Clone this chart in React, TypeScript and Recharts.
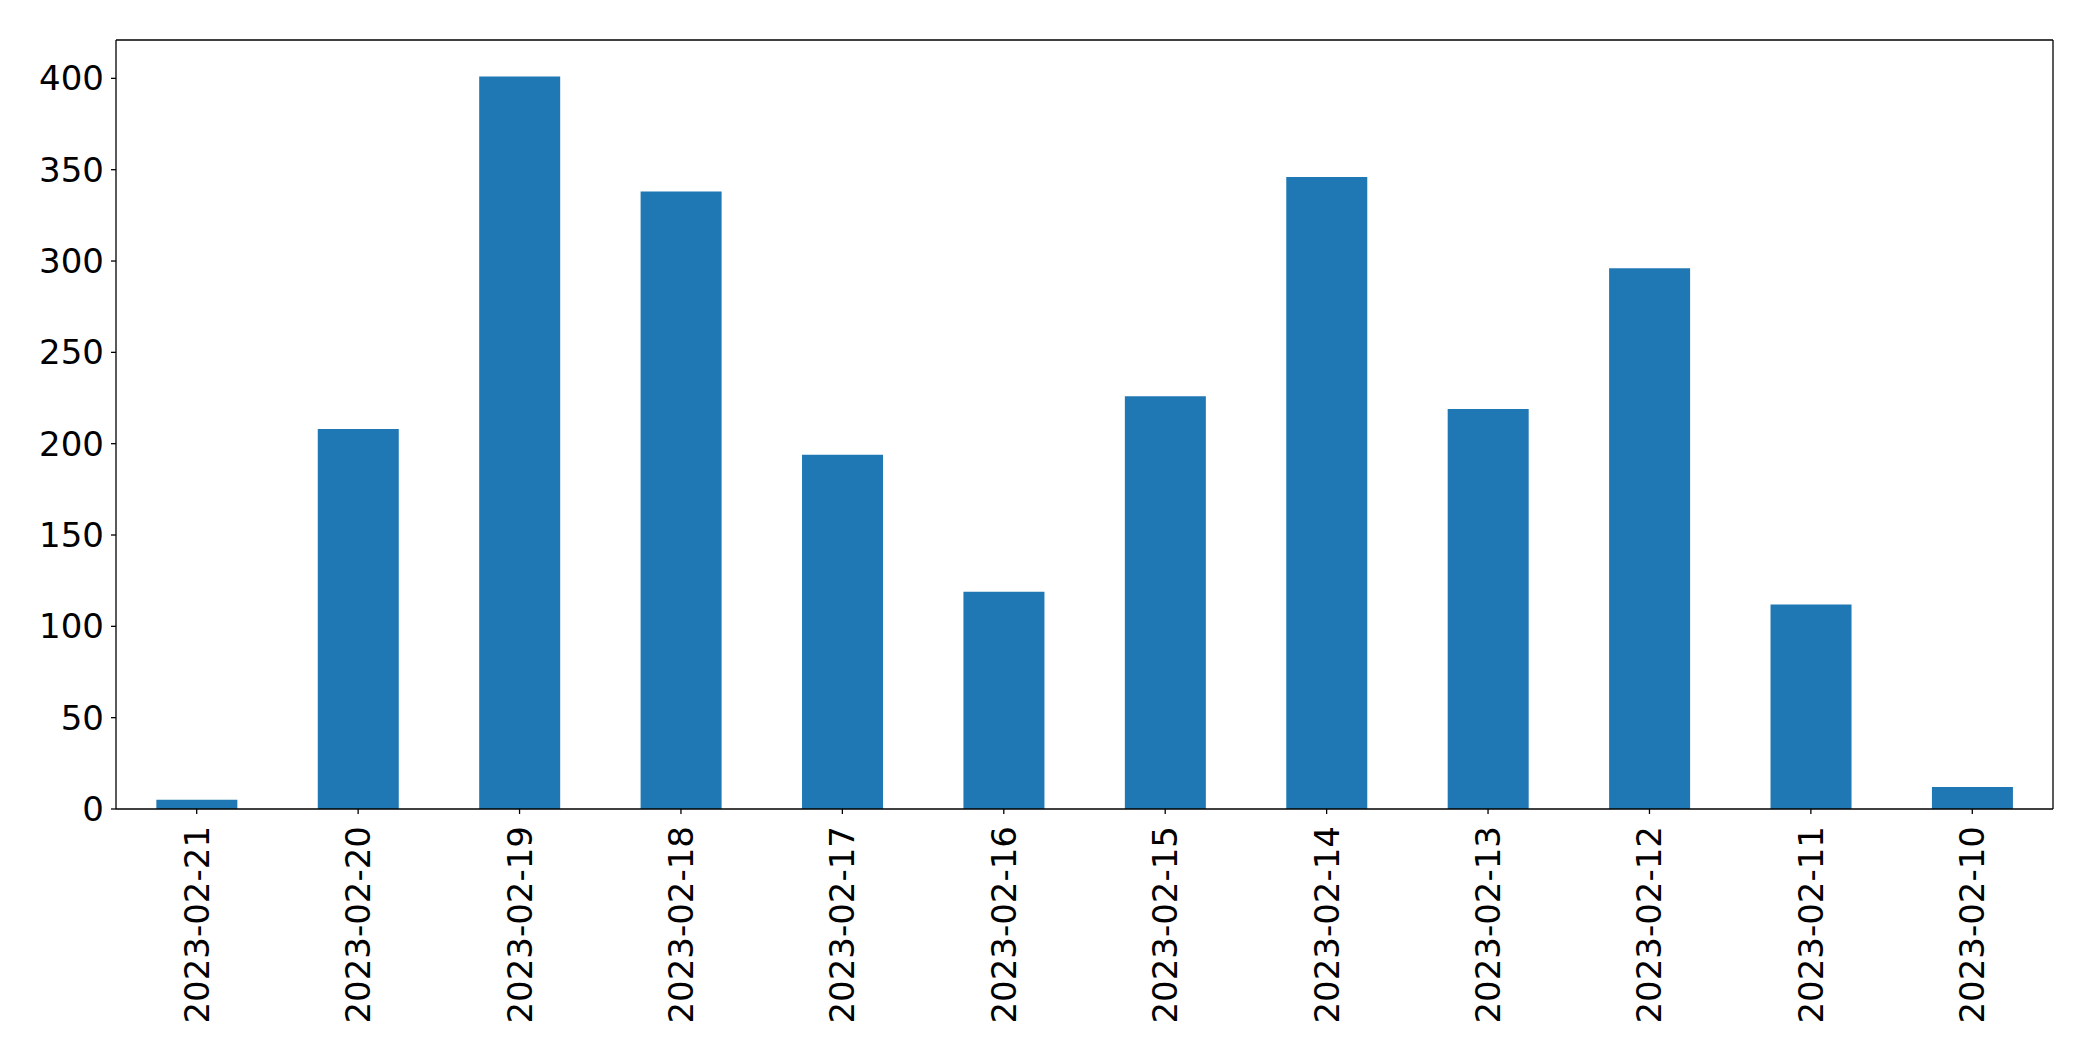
import { BarChart, Bar, XAxis, YAxis, CartesianGrid } from "recharts";

// dates as they appear on the x axis (left to right)
const dates = [
  "2023-02-21",
  "2023-02-20",
  "2023-02-19",
  "2023-02-18",
  "2023-02-17",
  "2023-02-16",
  "2023-02-15",
  "2023-02-14",
  "2023-02-13",
  "2023-02-12",
  "2023-02-11",
  "2023-02-10",
];
const counts = [5, 208, 401, 338, 194, 119, 226, 346, 219, 296, 112, 12];
const yTicks = [0, 50, 100, 150, 200, 250, 300, 350, 400];

const data = dates.map((date, i) => ({ date, count: counts[i] }));

const FONT = "DejaVu Sans";

function DateTick({ x, y, payload }: { x?: number; y?: number; payload?: { value: string } }) {
  return (
    <text
      x={x}
      y={y}
      transform={`rotate(-90, ${x}, ${y})`}
      textAnchor="end"
      dominantBaseline="central"
      fontFamily={FONT}
      fontSize={34}
      fill="#000"
    >
      {payload?.value}
    </text>
  );
}

type GridArgs = { offset: { left: number; top: number; width: number; height: number } };

export default function App() {
  return (
    <div style={{ position: "absolute", left: 0, top: 0, background: "#fff" }}>
      <BarChart
        width={2093}
        height={1061}
        data={data}
        margin={{ top: 40, right: 40, left: 0, bottom: 0 }}
        barCategoryGap="25%"
      >
        {/* top and right spines of the frame */}
        <CartesianGrid
          stroke="#000"
          strokeWidth={1.3}
          horizontalCoordinatesGenerator={({ offset }: GridArgs) => [offset.top]}
          verticalCoordinatesGenerator={({ offset }: GridArgs) => [offset.left + offset.width]}
        />
        <XAxis
          dataKey="date"
          type="category"
          height={252}
          interval={0}
          stroke="#000"
          strokeWidth={1.3}
          tickSize={5}
          tickMargin={12}
          tick={<DateTick />}
        />
        <YAxis
          type="number"
          domain={[0, 421]}
          ticks={yTicks}
          width={116}
          stroke="#000"
          strokeWidth={1.3}
          tickSize={5}
          tickMargin={7}
          tick={{ fill: "#000", fontFamily: FONT, fontSize: 34 }}
        />
        <Bar dataKey="count" fill="#1f77b4" isAnimationActive={false} />
      </BarChart>
    </div>
  );
}
